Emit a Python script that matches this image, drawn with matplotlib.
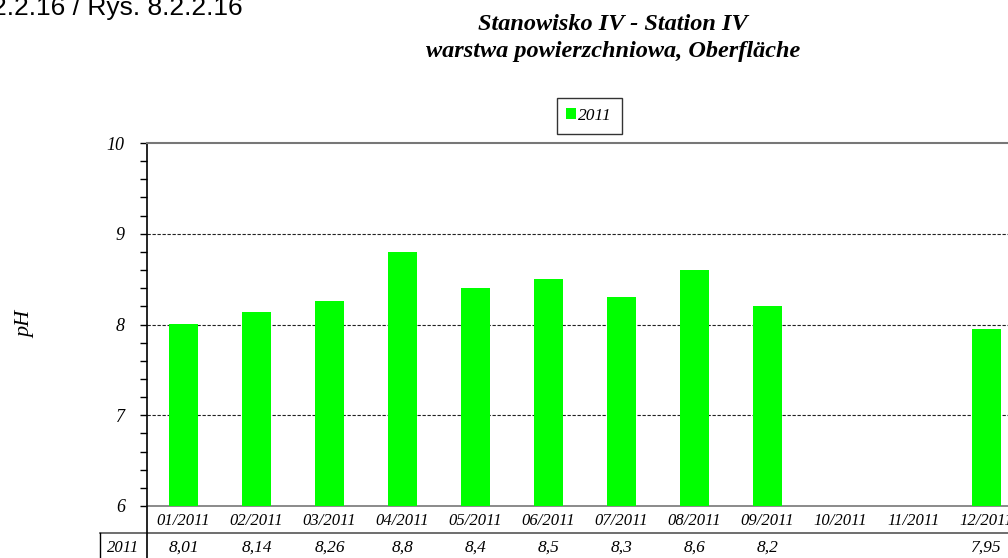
import matplotlib
matplotlib.use("Agg")
import matplotlib.pyplot as plt
from matplotlib.lines import Line2D
from matplotlib.patches import Patch
import numpy as np

months = ["01/2011", "02/2011", "03/2011", "04/2011", "05/2011", "06/2011",
          "07/2011", "08/2011", "09/2011", "10/2011", "11/2011", "12/2011"]
ph_2011 = [8.01, 8.14, 8.26, 8.8, 8.4, 8.5, 8.3, 8.6, 8.2, None, None, 7.95]
series_name = "2011"

W, H = 1008, 558
SERIF = "Liberation Serif"
GREEN = "#00ff00"


def fx(px):
    return px / W


def fy(py):
    return 1 - py / H


fig = plt.figure(figsize=(W / 100, H / 100), dpi=100)
# axes runs past the right edge, as in the original crop
ax = fig.add_axes([fx(147), fy(506), fx(1023 - 147), fy(143) - fy(506)])

x = np.arange(len(months))
vals = np.array([np.nan if v is None else v for v in ph_2011])
ax.bar(x, np.nan_to_num(vals - 6, nan=0), bottom=6, width=0.41, color=GREEN,
       zorder=3)

ax.set_xlim(-0.5, len(months) - 0.5)
ax.set_ylim(6, 10)
ax.set_yticks([6, 7, 8, 9, 10])
ax.set_yticks(np.arange(6, 10.01, 0.2), minor=True)
ax.set_yticklabels(["6", "7", "8", "9", "10"], fontfamily=SERIF,
                   fontstyle="italic", fontsize=13)
ax.tick_params(axis="y", which="both", direction="out", length=5, width=1,
               pad=11)
ax.set_xticks(x)
ax.set_xticklabels(months, fontfamily=SERIF, fontstyle="italic", fontsize=12)
ax.tick_params(axis="x", length=0, pad=5)

for yv in (7, 8, 9):
    ax.axhline(yv, color="#222222", linestyle=(0, (3, 1.5)), linewidth=0.8,
               zorder=2)

ax.spines["right"].set_visible(False)
ax.spines["top"].set_color("#777777")
ax.spines["top"].set_linewidth(1.5)
ax.spines["bottom"].set_color("#777777")
ax.spines["bottom"].set_linewidth(1.2)
ax.spines["left"].set_linewidth(1.2)

ax.set_ylabel("pH", fontfamily=SERIF, fontstyle="italic", fontsize=16,
              labelpad=0)
ax.yaxis.set_label_coords(fx(35 - 147) / fx(1023 - 147), 0.5)

# data table below the axis
fig.add_artist(Line2D([fx(100), 1.0], [fy(533), fy(533)], color="#555555",
                      linewidth=1.2))
fig.add_artist(Line2D([fx(147), fx(147)], [fy(506), 0], color="black",
                      linewidth=1.2))
fig.add_artist(Line2D([fx(100), fx(100)], [fy(533), 0], color="black",
                      linewidth=1.0))
fig.text(fx(123), fy(548), series_name, ha="center", va="center",
         fontfamily=SERIF, fontstyle="italic", fontsize=12)
for i, v in enumerate(ph_2011):
    if v is None:
        continue
    xd = ax.transData.transform((i, 6))[0] / W
    fig.text(xd, fy(548), f"{v:g}".replace(".", ","), ha="center",
             va="center", fontfamily=SERIF, fontstyle="italic", fontsize=12.5)

# legend
fig.legend(handles=[Patch(facecolor=GREEN, edgecolor="none", label=series_name)],
           loc="center", bbox_to_anchor=(fx(589), fy(116)), frameon=True,
           fancybox=False, edgecolor="#333333", framealpha=1,
           handlelength=0.6, handleheight=0.6, handletextpad=0.1,
           borderpad=0.55, borderaxespad=0,
           prop={"family": SERIF, "style": "italic", "size": 12.5})

fig.text(fx(613), fy(24), "Stanowisko IV - Station IV", ha="center",
         va="center", fontfamily=SERIF, fontstyle="italic", fontweight="bold",
         fontsize=17.5)
fig.text(fx(613), fy(52), "warstwa powierzchniowa, Oberfl\u00e4che",
         ha="center", va="center", fontfamily=SERIF, fontstyle="italic",
         fontweight="bold", fontsize=17.5)

fig.text(fx(243), fy(15), "Fig. 8.2.2.16 / Rys. 8.2.2.16", ha="right",
         va="baseline", fontfamily="Liberation Sans", fontsize=19)

fig.savefig("out.png", dpi=100)
